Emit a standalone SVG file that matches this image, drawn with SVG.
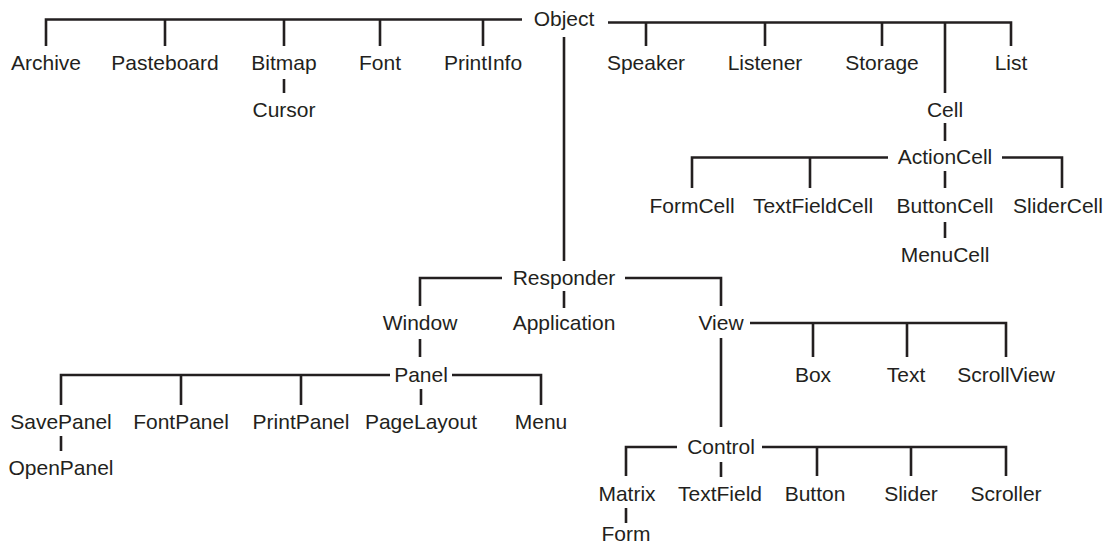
<svg xmlns="http://www.w3.org/2000/svg" width="1107" height="546" viewBox="0 0 1107 546">
<style>
.t{font-family:"Liberation Sans",Arial,Helvetica,sans-serif;font-size:21px;fill:#231f20;text-anchor:middle}
.c path{stroke:#231f20;stroke-width:2.6;fill:none;stroke-linejoin:miter;stroke-linecap:butt}
</style>
<rect width="1107" height="546" fill="#ffffff"/>
<g class="c" id="connectors">
<path id="e-object-left" d="M522 19.5 H46 V46 M165 19.5 V46 M284 19.5 V46 M380 19.5 V46 M483 19.5 V46"/>
<path id="e-object-right" d="M608 22.5 H1011 V46 M646 22.5 V46 M765 22.5 V46 M882 22.5 V46 M945 22.5 V93"/>
<path id="e-bitmap-cursor" d="M284 79 V93"/>
<path id="e-cell-actioncell" d="M945 123 V141"/>
<path id="e-actioncell-left" d="M888 157.5 H692 V188 M810 157.5 V188"/>
<path id="e-actioncell-right" d="M1002 157.5 H1062 V188"/>
<path id="e-actioncell-buttoncell" d="M945 171 V188"/>
<path id="e-buttoncell-menucell" d="M945 222 V238"/>
<path id="e-object-responder" d="M564 37 V261"/>
<path id="e-responder-window" d="M502 278 H420 V306"/>
<path id="e-responder-view" d="M625 278 H721 V306"/>
<path id="e-responder-application" d="M564 291 V308"/>
<path id="e-window-panel" d="M420 339 V357"/>
<path id="e-view-right" d="M750 323 H1006 V357 M813 323 V357 M907 323 V357"/>
<path id="e-view-control" d="M721 338 V427"/>
<path id="e-panel-left" d="M390 375 H61 V405 M181 375 V405 M301 375 V405"/>
<path id="e-panel-right" d="M452 375 H541 V405"/>
<path id="e-panel-pagelayout" d="M421 389 V405"/>
<path id="e-savepanel-openpanel" d="M61 436 V451"/>
<path id="e-control-left" d="M677 447 H626 V476"/>
<path id="e-control-right" d="M762 447 H1006 V476 M817 447 V476 M911 447 V476"/>
<path id="e-control-textfield" d="M721 462 V477"/>
<path id="e-matrix-form" d="M626 508 V523"/>
</g>
<g id="n-object"><text class="t" x="564" y="26">Object</text></g>
<g id="n-archive"><text class="t" x="46" y="70">Archive</text></g>
<g id="n-pasteboard"><text class="t" x="165" y="70">Pasteboard</text></g>
<g id="n-bitmap"><text class="t" x="284" y="70">Bitmap</text></g>
<g id="n-font"><text class="t" x="380" y="70">Font</text></g>
<g id="n-printinfo"><text class="t" x="483" y="70">PrintInfo</text></g>
<g id="n-speaker"><text class="t" x="646" y="70">Speaker</text></g>
<g id="n-listener"><text class="t" x="765" y="70">Listener</text></g>
<g id="n-storage"><text class="t" x="882" y="70">Storage</text></g>
<g id="n-list"><text class="t" x="1011" y="70">List</text></g>
<g id="n-cursor"><text class="t" x="284" y="117">Cursor</text></g>
<g id="n-cell"><text class="t" x="945" y="117">Cell</text></g>
<g id="n-actioncell"><text class="t" x="945" y="164">ActionCell</text></g>
<g id="n-formcell"><text class="t" x="692" y="213">FormCell</text></g>
<g id="n-textfieldcell"><text class="t" x="813" y="213">TextFieldCell</text></g>
<g id="n-buttoncell"><text class="t" x="945" y="213">ButtonCell</text></g>
<g id="n-slidercell"><text class="t" x="1058" y="213">SliderCell</text></g>
<g id="n-menucell"><text class="t" x="945" y="262">MenuCell</text></g>
<g id="n-responder"><text class="t" x="564" y="285">Responder</text></g>
<g id="n-window"><text class="t" x="420" y="330">Window</text></g>
<g id="n-application"><text class="t" x="564" y="330">Application</text></g>
<g id="n-view"><text class="t" x="721" y="330">View</text></g>
<g id="n-box"><text class="t" x="813" y="382">Box</text></g>
<g id="n-text"><text class="t" x="906" y="382">Text</text></g>
<g id="n-scrollview"><text class="t" x="1006" y="382">ScrollView</text></g>
<g id="n-panel"><text class="t" x="421" y="382">Panel</text></g>
<g id="n-savepanel"><text class="t" x="61" y="429">SavePanel</text></g>
<g id="n-fontpanel"><text class="t" x="181" y="429">FontPanel</text></g>
<g id="n-printpanel"><text class="t" x="301" y="429">PrintPanel</text></g>
<g id="n-pagelayout"><text class="t" x="421" y="429">PageLayout</text></g>
<g id="n-menu"><text class="t" x="541" y="429">Menu</text></g>
<g id="n-openpanel"><text class="t" x="61" y="475">OpenPanel</text></g>
<g id="n-control"><text class="t" x="721" y="454">Control</text></g>
<g id="n-matrix"><text class="t" x="627" y="501">Matrix</text></g>
<g id="n-textfield"><text class="t" x="720" y="501">TextField</text></g>
<g id="n-button"><text class="t" x="815" y="501">Button</text></g>
<g id="n-slider"><text class="t" x="911" y="501">Slider</text></g>
<g id="n-scroller"><text class="t" x="1006" y="501">Scroller</text></g>
<g id="n-form"><text class="t" x="626" y="541">Form</text></g>
</svg>
